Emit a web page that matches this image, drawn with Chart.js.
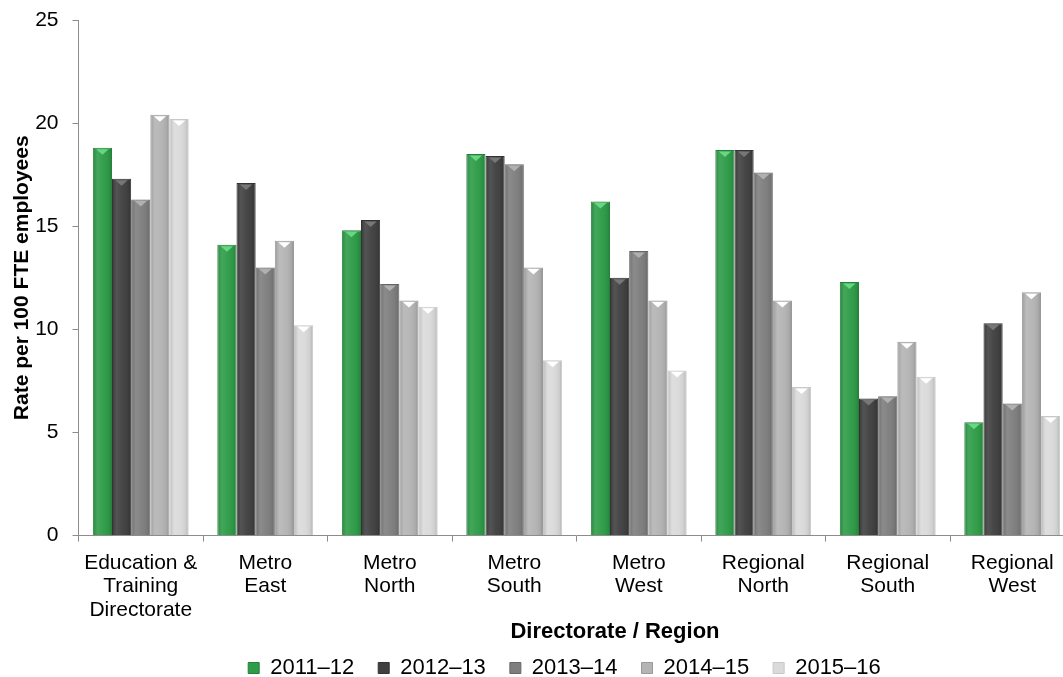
<!DOCTYPE html>
<html>
<head>
<meta charset="utf-8">
<script src="https://cdn.jsdelivr.net/npm/chart.js@4/dist/chart.umd.min.js"></script>
<style>
html, body { margin: 0; padding: 0; background: #fff; overflow: hidden; }
#wrap { width: 1063px; height: 677px; overflow: hidden; }
canvas { display: block; }
</style>
</head>
<body>
<div id="wrap"><canvas id="c" width="1230" height="677"></canvas></div>
<script>
const categories = [
  ['Education &', 'Training', 'Directorate'],
  ['Metro', 'East'],
  ['Metro', 'North'],
  ['Metro', 'South'],
  ['Metro', 'West'],
  ['Regional', 'North'],
  ['Regional', 'South'],
  ['Regional', 'West']
];
const seriesNames = ['2011–12', '2012–13', '2013–14', '2014–15', '2015–16'];
const values2011_12 = [18.8, 14.1, 14.8, 18.5, 16.2, 18.7, 12.3, 5.5];
const values2012_13 = [17.3, 17.1, 15.3, 18.4, 12.5, 18.7, 6.65, 10.3];
const values2013_14 = [16.3, 13.0, 12.2, 18.0, 13.8, 17.6, 6.75, 6.4];
const values2014_15 = [20.4, 14.3, 11.4, 13.0, 11.4, 11.4, 9.4, 11.8];
const values2015_16 = [20.2, 10.2, 11.1, 8.5, 8.0, 7.2, 7.7, 5.8];
const yTicks = [0, 5, 10, 15, 20, 25];

const seriesValues = [values2011_12, values2012_13, values2013_14, values2014_15, values2015_16];
const fills = ['#2E9C48', '#404040', '#7E7E7E', '#B4B4B4', '#DADADA'];
const borders = ['#24803A', '#333333', '#666666', '#9A9A9A', '#C8C8C8'];
const tris = ['#66D882', '#777777', '#B0B0B0', '#FFFFFF', '#FFFFFF'];

const FONT = "'Liberation Sans', Arial, sans-serif";

const shade = {
  id: 'shade',
  afterUpdate(chart) {
    const lg = chart.legend;
    if (lg) { lg.left -= 12; lg.right -= 12; }
  },
  afterDatasetsDraw(chart) {
    const ctx = chart.ctx;
    chart.data.datasets.forEach((ds, di) => {
      const meta = chart.getDatasetMeta(di);
      meta.data.forEach(bar => {
        const p = bar.getProps(['x', 'y', 'base', 'width'], true);
        const l = p.x - p.width / 2, r = p.x + p.width / 2;
        const h = p.base - p.y;
        const g = ctx.createLinearGradient(l, 0, r, 0);
        g.addColorStop(0, 'rgba(0,0,0,0.16)');
        g.addColorStop(0.25, 'rgba(255,255,255,0.10)');
        g.addColorStop(0.55, 'rgba(255,255,255,0.03)');
        g.addColorStop(0.85, 'rgba(0,0,0,0.06)');
        g.addColorStop(1, 'rgba(0,0,0,0.20)');
        ctx.save();
        ctx.fillStyle = g;
        ctx.fillRect(l + 1, p.y + 1, p.width - 2, h - 1);
        ctx.beginPath();
        ctx.moveTo(l + p.width * 0.18, p.y + 1.5);
        ctx.lineTo(r - p.width * 0.18, p.y + 1.5);
        ctx.lineTo(p.x, p.y + 7);
        ctx.closePath();
        ctx.fillStyle = tris[di];
        ctx.fill();
        ctx.restore();
      });
    });
  }
};

new Chart(document.getElementById('c'), {
  type: 'bar',
  data: {
    labels: categories,
    datasets: seriesNames.map((name, i) => ({
      label: name,
      data: seriesValues[i],
      backgroundColor: fills[i],
      borderColor: borders[i],
      borderWidth: 1,
      categoryPercentage: 0.77,
      barPercentage: 1.0,
      yAxisID: 'y'
    }))
  },
  options: {
    responsive: false,
    animation: false,
    layout: { padding: { top: 20, left: 0, right: 0, bottom: 0 } },
    scales: {
      x: {
        afterFit: s => { s.height -= 5; },
        grid: { display: true, drawOnChartArea: false, drawTicks: true, tickLength: 6, offset: true, color: '#8C8C8C' },
        border: { display: true, color: '#8C8C8C', width: 1 },
        ticks: { color: '#000', font: { family: FONT, size: 21, lineHeight: 1.11 }, padding: 10, maxRotation: 0, autoSkip: false }
      },
      y: {
        position: 'left',
        min: 0, max: 25,
        afterBuildTicks: s => { s.ticks = yTicks.map(v => ({ value: v })); },
        afterFit: s => { s.width = 78.5; s.paddingTop = 6; s.paddingBottom = 6; },
        grid: { display: true, drawOnChartArea: false, drawTicks: true, tickLength: 6, color: '#8C8C8C' },
        border: { display: true, color: '#8C8C8C', width: 1 },
        ticks: { color: '#000', font: { family: FONT, size: 21 }, padding: 14 },
        title: { display: true, text: 'Rate per 100 FTE employees', color: '#000', font: { family: FONT, size: 21, weight: 'bold' }, padding: { top: 10, bottom: 0 } }
      },
      yR: {
        position: 'right',
        display: true,
        afterFit: s => { s.width = 155.5; },
        grid: { display: false },
        border: { display: false },
        ticks: { display: false }
      }
    },
    plugins: {
      title: {
        display: true,
        position: 'bottom',
        weight: 100,
        text: 'Directorate / Region',
        color: '#000',
        font: { family: FONT, size: 22, weight: 'bold', lineHeight: 0.1 },
        padding: { top: 4.3, bottom: 0 }
      },
      legend: {
        position: 'bottom',
        fullSize: false,
        weight: 1000,
        maxHeight: 44,
        labels: {
          color: '#000',
          font: { family: FONT, size: 22 },
          boxWidth: 11, boxHeight: 11,
          padding: 24
        }
      },
      tooltip: { enabled: false }
    }
  },
  plugins: [shade]
});
</script>
</body>
</html>
